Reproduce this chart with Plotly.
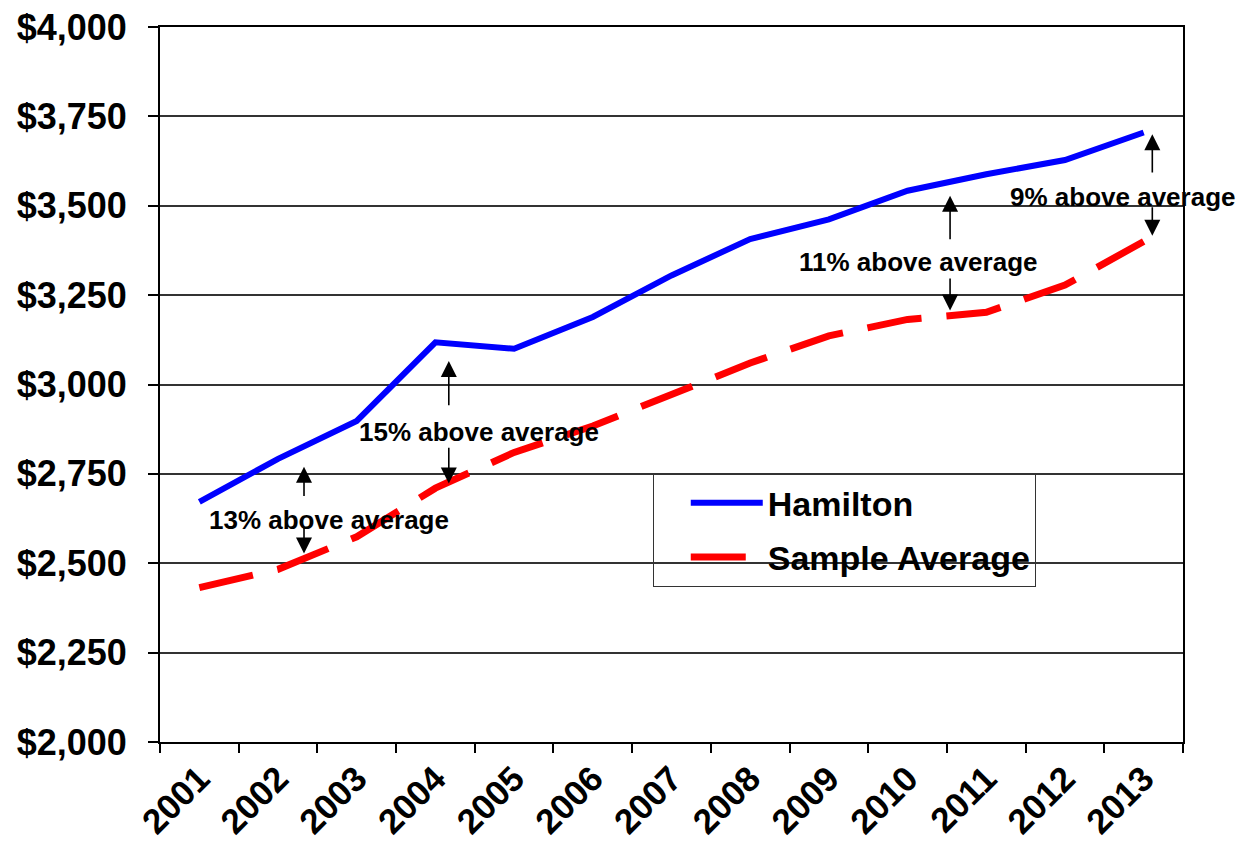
import plotly.graph_objects as go

# Per-capita spending, Hamilton vs. the sample average
years = [str(y) for y in range(2001, 2014)]
hamilton = [2672, 2792, 2898, 3118, 3100, 3189, 3305, 3407, 3462, 3542, 3588, 3628, 3705]
sample_avg = [2432, 2483, 2574, 2710, 2810, 2884, 2972, 3060, 3136, 3182, 3202, 3278, 3400]

# Gap callouts: label, arrow x (category index), up arrow (tip, tail),
# down arrow (tail, tip), label centre (x index, y)
gap_labels = ["13% above average", "15% above average", "11% above average", "9% above average"]
gap_arrow_x = [1.33, 3.17, 9.54, 12.11]
gap_up = [(2770, 2684), (3066, 2938), (3528, 3402), (3700, 3589)]
gap_down = [(2603, 2527), (2827, 2723), (3301, 3207), (3500, 3416)]
gap_text_pos = [(1.645, 2622), (3.56, 2866), (9.145, 3343), (11.73, 3524)]

FONT = "Arial, Liberation Sans, sans-serif"

fig = go.Figure()
fig.add_trace(go.Scatter(
    x=years, y=hamilton, name="Hamilton", mode="lines", legendgroup="h",
    line=dict(color="#0000FF", width=6),
))
fig.add_trace(go.Scatter(
    x=years, y=sample_avg, name="Sample Average", mode="lines", legendgroup="s",
    line=dict(color="#FF0000", width=7, dash="55px,25px"),
))

annotations = []
for label, ax_x, (up_tip, up_tail), (dn_tail, dn_tip), (tx, ty) in zip(
        gap_labels, gap_arrow_x, gap_up, gap_down, gap_text_pos):
    for tip, tail in ((up_tip, up_tail), (dn_tip, dn_tail)):
        annotations.append(dict(
            x=ax_x, y=tip, ax=ax_x, ay=tail, xref="x", yref="y",
            axref="x", ayref="y", text="", showarrow=True,
            arrowhead=2, arrowsize=2.0, arrowwidth=1.6, arrowcolor="black",
        ))
    annotations.append(dict(
        x=tx, y=ty, xref="x", yref="y", text=label, showarrow=False,
        xanchor="center", yanchor="middle",
        font=dict(family=FONT, size=26, color="black", weight="bold"),
    ))

fig.update_layout(
    width=1240, height=847,
    margin=dict(l=160, r=57, t=27, b=105, autoexpand=False),
    paper_bgcolor="white", plot_bgcolor="white",
    showlegend=True,
    legend=dict(
        x=0.482, y=0.376, xanchor="left", yanchor="top",
        bgcolor="rgba(0,0,0,0)", bordercolor="#333", borderwidth=1,
        font=dict(family=FONT, size=34, color="black", weight="bold"),
        itemwidth=72, tracegroupgap=7, traceorder="grouped",
        # blank side title keeps some room left of the legend keys
        title=dict(text="\u00a0" * 3, side="left", font=dict(family=FONT, size=26)),
    ),
    annotations=annotations,
)
fig.update_xaxes(
    type="category", range=[-0.5, 12.5], tickson="boundaries",
    ticks="outside", ticklen=9, tickwidth=1.5, tickcolor="black",
    tickangle=-45, showgrid=False, automargin=False,
    showline=True, linecolor="black", linewidth=2, mirror=True,
    tickfont=dict(family=FONT, size=35, color="black", weight="bold"),
)
fig.update_yaxes(
    range=[2000, 4000], dtick=250, tickprefix="$", tickformat=",",
    ticks="outside", ticklen=10, tickwidth=1.5, tickcolor="black",
    ticklabelstandoff=14, automargin=False,
    showgrid=True, gridcolor="#333", gridwidth=1.5,
    showline=True, linecolor="black", linewidth=2, mirror=True,
    zeroline=False,
    tickfont=dict(family=FONT, size=36, color="black", weight="bold"),
)

fig.write_html("out.html")
